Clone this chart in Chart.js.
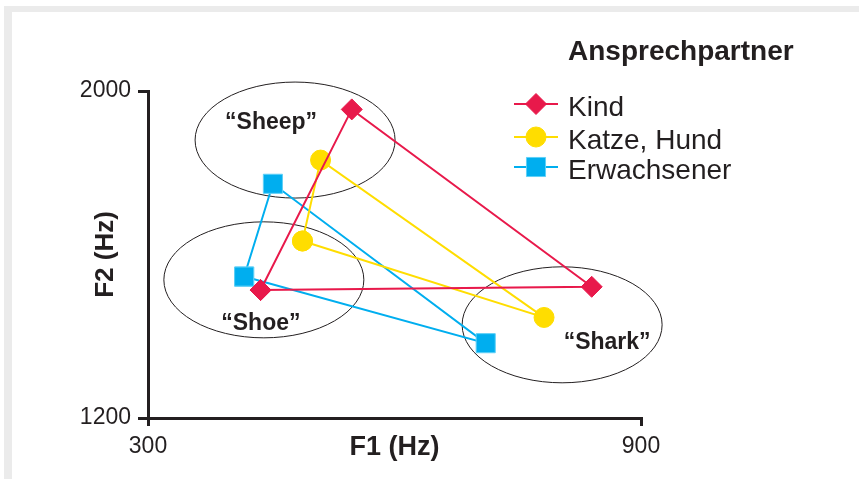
<!DOCTYPE html>
<html><head><meta charset="utf-8">
<script src="https://cdn.jsdelivr.net/npm/chart.js@4/dist/chart.umd.min.js"></script>
<style>
html,body{margin:0;padding:0;background:#fff;}
#wrap{position:relative;width:859px;height:479px;overflow:hidden;}
#frame{position:absolute;left:4px;top:6px;right:0;bottom:-20px;border-top:6px solid #ebebeb;border-left:8px solid #ebebeb;}
canvas{position:absolute;left:0;top:0;}
</style></head><body>
<div id="wrap"><div id="frame"></div><canvas id="c" width="859" height="479"></canvas></div>
<script>
// ---- data ----
const vowels = ['Shoe', 'Sheep', 'Shark'];
const seriesNames = ['Kind', 'Katze, Hund', 'Erwachsener'];
const kindF1 = [437, 548, 840];
const kindF2 = [1513, 1955, 1521];
const tierF1 = [488, 510, 782];
const tierF2 = [1633, 1831, 1446];
const erwF1 = [417, 452, 711];
const erwF2 = [1546, 1773, 1383];
const xTicks = [300, 900];
const yTicks = [1200, 2000];
const xTitle = 'F1 (Hz)';
const yTitle = 'F2 (Hz)';
const legendTitle = 'Ansprechpartner';
const vowelLabels = ['“Shoe”', '“Sheep”', '“Shark”'];
const vowelCenterF1 = [441, 479, 804];
const vowelCenterF2 = [1538, 1880, 1428];

const INK = '#231f20';
const FONT = "'Liberation Sans', Arial, Helvetica, sans-serif";

function loop(xs, ys) {
  const pts = xs.map((x, i) => ({x: x, y: ys[i]}));
  return pts.concat([pts[0]]);
}

const seriesStyle = [
  {color: '#e8194b', border: '#e8194b', style: 'rectRot', r: 10.5},
  {color: '#ffdd00', border: '#ffdd00', style: 'circle', r: 10},
  {color: '#00aeef', border: '#5fd0f7', style: 'rect', r: 13.5}
];
const seriesData = [loop(kindF1, kindF2), loop(tierF1, tierF2), loop(erwF1, erwF2)];

const datasets = seriesNames.map((name, i) => ({
  label: name,
  data: seriesData[i],
  showLine: true,
  borderColor: seriesStyle[i].color,
  backgroundColor: seriesStyle[i].color,
  borderWidth: 2,
  pointStyle: seriesStyle[i].style,
  pointRadius: seriesStyle[i].r,
  pointHoverRadius: seriesStyle[i].r,
  pointBackgroundColor: seriesStyle[i].color,
  pointBorderColor: seriesStyle[i].border,
  pointBorderWidth: 1,
  tension: 0
}));

const annotations = {
  id: 'annotations',
  beforeDatasetsDraw(chart) {
    const ctx = chart.ctx;
    const xs = chart.scales.x, ys = chart.scales.y;
    ctx.save();
    ctx.strokeStyle = INK;
    ctx.lineWidth = 1;
    vowelCenterF1.forEach((f1, i) => {
      const cx = xs.getPixelForValue(f1), cy = ys.getPixelForValue(vowelCenterF2[i]);
      ctx.beginPath();
      ctx.ellipse(cx, cy, 100, 58, 0, 0, Math.PI * 2);
      ctx.stroke();
    });
    ctx.restore();
  },
  afterDraw(chart) {
    const ctx = chart.ctx;
    const xs = chart.scales.x, ys = chart.scales.y;
    ctx.save();
    ctx.fillStyle = INK;
    ctx.textAlign = 'center';
    ctx.textBaseline = 'middle';
    ctx.font = 'bold 23px ' + FONT;
    const offs = [[-3, 44], [-24, -17], [45, 18]];
    vowelLabels.forEach((t, i) => {
      const cx = xs.getPixelForValue(vowelCenterF1[i]), cy = ys.getPixelForValue(vowelCenterF2[i]);
      ctx.fillText(t, cx + offs[i][0], cy + offs[i][1]);
    });
    // legend
    ctx.textAlign = 'left';
    ctx.font = 'bold 28px ' + FONT;
    ctx.fillText(legendTitle, 568, 52);
    ctx.font = '28px ' + FONT;
    const rows = [104, 137, 167];
    chart.data.datasets.forEach((ds, i) => {
      const y = rows[i];
      ctx.strokeStyle = ds.borderColor;
      ctx.lineWidth = 2;
      ctx.beginPath();
      ctx.moveTo(514, y);
      ctx.lineTo(558, y);
      ctx.stroke();
      ctx.fillStyle = ds.pointBackgroundColor;
      ctx.strokeStyle = ds.pointBorderColor;
      ctx.lineWidth = 1;
      Chart.helpers.drawPoint(ctx, {pointStyle: ds.pointStyle, radius: ds.pointRadius, rotation: 0, borderWidth: 1}, 536, y);
      ctx.fillStyle = INK;
      ctx.fillText(ds.label, 568, y + 4);
    });
    ctx.restore();
  }
};

new Chart(document.getElementById('c'), {
  type: 'scatter',
  data: {datasets: datasets},
  plugins: [annotations],
  options: {
    responsive: false,
    animation: false,
    devicePixelRatio: 1,
    layout: {padding: {left: 0, top: 91, right: 218, bottom: 0}},
    plugins: {legend: {display: false}, tooltip: {enabled: false}},
    scales: {
      x: {
        type: 'linear',
        min: xTicks[0], max: xTicks[xTicks.length - 1],
        afterBuildTicks: s => { s.ticks = xTicks.map(v => ({value: v})); },
        afterFit: s => { s.height = 61; },
        grid: {drawOnChartArea: false, drawTicks: true, tickLength: 8, color: INK, lineWidth: 3},
        border: {display: true, color: INK, width: 3},
        ticks: {color: INK, font: {family: FONT, size: 23}, padding: 7, maxRotation: 0, autoSkip: false, callback: v => String(v)},
        title: {display: true, text: xTitle, color: INK, font: {family: FONT, size: 27, weight: 'bold'}, padding: {top: 0, bottom: 15}}
      },
      y: {
        type: 'linear',
        min: yTicks[0], max: yTicks[yTicks.length - 1],
        afterBuildTicks: s => { s.ticks = yTicks.map(v => ({value: v})); },
        afterFit: s => { s.width = 148; },
        grid: {drawOnChartArea: false, drawTicks: true, tickLength: 10, color: INK, lineWidth: 3},
        border: {display: true, color: INK, width: 3},
        ticks: {color: INK, font: {family: FONT, size: 23}, padding: 7, autoSkip: false, callback: v => String(v)},
        title: {display: true, text: yTitle, color: INK, font: {family: FONT, size: 26, weight: 'bold'}, padding: {top: 90, bottom: 0}}
      }
    }
  }
});
</script>
</body></html>
